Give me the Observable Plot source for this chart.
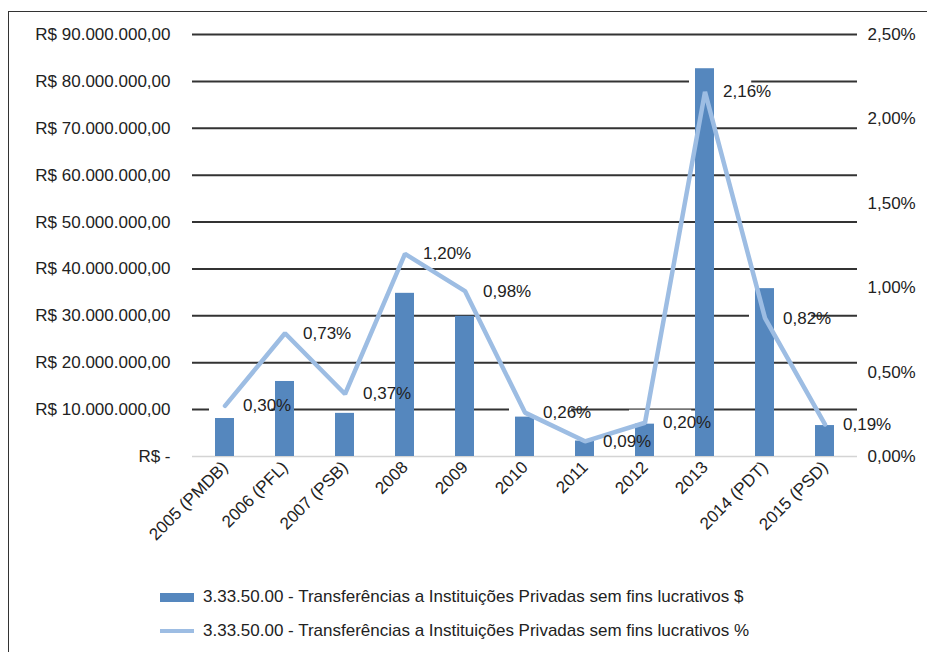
<!DOCTYPE html>
<html>
<head>
<meta charset="utf-8">
<script src="https://cdn.jsdelivr.net/npm/d3@7"></script>
<script src="https://cdn.jsdelivr.net/npm/@observablehq/plot@0.6"></script>
<style>
  html, body { margin: 0; padding: 0; background: #fff; }
  body { width: 927px; height: 652px; overflow: hidden; position: relative; font-family: "Liberation Sans", Arial, sans-serif; }
  #frame { position: absolute; left: 8px; top: 11px; width: 940px; height: 660px; border: 1.5px solid #333; box-sizing: border-box; }
  #chart { position: absolute; left: 0; top: 0; }
  #legend { position: absolute; left: 160px; top: 580px; font-size: 17px; color: #222; }
  .item { display: flex; align-items: center; height: 34px; }
  .sw { width: 34px; margin-right: 9px; }
</style>
</head>
<body>
<div id="frame"></div>
<div id="chart"></div>
<div id="legend">
  <div class="item"><span class="sw" style="height:9px;background:#5587be"></span><span>3.33.50.00 - Transferências a Instituições Privadas sem fins lucrativos $</span></div>
  <div class="item"><span class="sw" style="height:4px;background:#9dbde3"></span><span>3.33.50.00 - Transferências a Instituições Privadas sem fins lucrativos %</span></div>
</div>
<script>
// Transferências a instituições privadas sem fins lucrativos, por ano (e partido no governo)
const categorias = ["2005 (PMDB)", "2006 (PFL)", "2007 (PSB)", "2008", "2009", "2010", "2011", "2012", "2013", "2014 (PDT)", "2015 (PSD)"];
const valores = [8.1e6, 16.0e6, 9.2e6, 34.8e6, 29.9e6, 8.4e6, 3.3e6, 6.9e6, 82.7e6, 35.8e6, 6.6e6];
const percentuais = [0.30, 0.73, 0.37, 1.20, 0.98, 0.26, 0.09, 0.20, 2.16, 0.82, 0.19];
const reaisTicks = [0, 10e6, 20e6, 30e6, 40e6, 50e6, 60e6, 70e6, 80e6, 90e6];
const pctTicks = [0, 0.5, 1.0, 1.5, 2.0, 2.5];

const ptBR = d3.formatLocale({decimal: ",", thousands: ".", grouping: [3], currency: ["R$ ", ""]});
const fmtReais = v => v === 0 ? "R$ -" : "R$ " + ptBR.format(",.2f")(v);
const fmtPct = p => ptBR.format(".2f")(p) + "%";

// the percentage series shares the y scale: 2,50% sits at the top of the R$ axis
const k = reaisTicks[reaisTicks.length - 1] / pctTicks[pctTicks.length - 1];

const dados = categorias.map((c, i) => ({categoria: c, valor: valores[i], pct: percentuais[i], yPct: percentuais[i] * k}));

const chart = Plot.plot({
  width: 927,
  height: 565,
  marginTop: 34,
  marginBottom: 109,
  marginLeft: 192,
  marginRight: 70,
  style: {fontFamily: "'Liberation Sans', Arial, sans-serif", fontSize: "17px", color: "#222", background: "transparent", overflow: "visible"},
  x: {domain: categorias, paddingInner: 0.69, paddingOuter: 0.345},
  y: {domain: [0, reaisTicks[reaisTicks.length - 1]]},
  marks: [
    Plot.ruleY(reaisTicks.filter(d => d > 0), {stroke: "#333", strokeWidth: 2}),
    Plot.ruleY([0], {stroke: "#d4d4d4", strokeWidth: 1.5}),
    Plot.barY(dados, {x: "categoria", y: "valor", fill: "#5587be"}),
    Plot.line(dados, {x: "categoria", y: "yPct", stroke: "#9dbde3", strokeWidth: 4.5, strokeLinejoin: "miter"}),
    Plot.text(dados, {x: "categoria", y: "yPct", text: d => fmtPct(d.pct), textAnchor: "start", dx: 18, fill: "#222"}),
    Plot.axisY({ticks: reaisTicks, tickFormat: fmtReais, tickSize: 0, tickPadding: 22, label: null}),
    Plot.axisY({anchor: "right", ticks: pctTicks.map(p => p * k), tickFormat: v => fmtPct(v / k), tickSize: 0, tickPadding: 10, label: null, textAnchor: "start"}),
    Plot.axisX({tickRotate: -45, tickSize: 0, tickPadding: 8, label: null})
  ]
});

document.getElementById("chart").appendChild(chart);

// white boxes behind the value labels; they sit over the gridlines but under the bars
const svg = d3.select(chart);
const boxes = document.createElementNS("http://www.w3.org/2000/svg", "g");
const barGroup = chart.querySelector('g[aria-label="bar"]');
barGroup.parentNode.insertBefore(boxes, barGroup);
svg.selectAll('g[aria-label="text"] text').each(function () {
  const b = this.getBBox();
  const t = this.getAttribute("transform");
  const r = document.createElementNS("http://www.w3.org/2000/svg", "rect");
  r.setAttribute("x", b.x - 6);
  r.setAttribute("y", b.y - 3);
  r.setAttribute("width", b.width + 14);
  r.setAttribute("height", b.height + 6);
  r.setAttribute("fill", "#fff");
  if (t) r.setAttribute("transform", t);
  boxes.appendChild(r);
});
</script>
</body>
</html>
